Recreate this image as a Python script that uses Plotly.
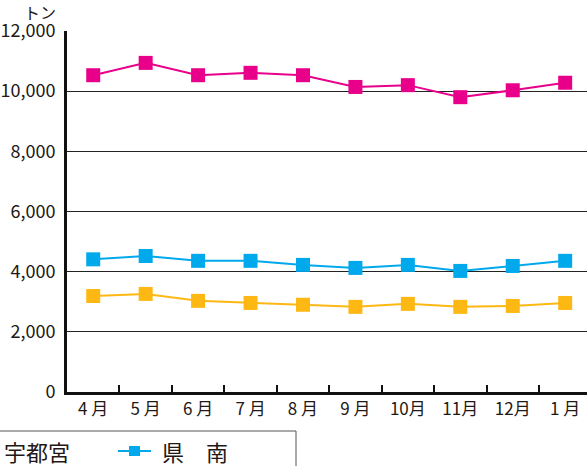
import plotly.graph_objects as go

months = ["4\u00a0月", "5\u00a0月", "6\u00a0月", "7\u00a0月", "8\u00a0月", "9\u00a0月", "10月", "11月", "12月", "1\u00a0月"]
utsunomiya = [10530, 10940, 10530, 10610, 10530, 10140, 10200, 9800, 10030, 10280]
kennan = [4410, 4520, 4360, 4360, 4225, 4125, 4225, 4025, 4190, 4360]
kenpoku = [3190, 3260, 3030, 2960, 2900, 2830, 2930, 2830, 2860, 2960]

series_names = ["宇都宮", "県　南", "県　北"]
series_colors = ["#E8008A", "#00A9EC", "#FDB813"]

y_ticks = [0, 2000, 4000, 6000, 8000, 10000, 12000]
y_ticktext = ["0", "2,000", "4,000", "6,000", "8,000", "10,000", "12,000"]

FONT = "Noto Sans CJK JP"
W, H = 587, 466
ML, MT, MB = 67, 31, 74
PW, PH = W - ML, H - MT - MB


def px_x(x):
    return (x - ML) / PW


def px_y(y):
    return (MT + PH - y) / PH


fig = go.Figure()
for vals, name, col in [(kenpoku, series_names[2], series_colors[2]),
                        (utsunomiya, series_names[0], series_colors[0]),
                        (kennan, series_names[1], series_colors[1])]:
    fig.add_trace(go.Scatter(x=months, y=vals, name=name, mode="lines+markers",
                             line=dict(color=col, width=2),
                             marker=dict(symbol="square", size=14, color=col),
                             showlegend=False))

# legend (partly outside the visible page, as in the reference)
shapes = [
    dict(type="rect", xref="paper", yref="paper", x0=px_x(-20), x1=px_x(296),
         y0=px_y(431), y1=px_y(480), line=dict(color="#555555", width=1),
         fillcolor="white", layer="above"),
    dict(type="line", xref="paper", yref="paper", x0=px_x(-45), x1=px_x(-12),
         y0=px_y(451), y1=px_y(451), line=dict(color=series_colors[0], width=2), layer="above"),
    dict(type="rect", xref="paper", yref="paper", x0=px_x(-34), x1=px_x(-23),
         y0=px_y(446), y1=px_y(456), line=dict(width=0), fillcolor=series_colors[0], layer="above"),
    dict(type="line", xref="paper", yref="paper", x0=px_x(118), x1=px_x(151),
         y0=px_y(451), y1=px_y(451), line=dict(color=series_colors[1], width=2), layer="above"),
    dict(type="rect", xref="paper", yref="paper", x0=px_x(129), x1=px_x(140),
         y0=px_y(446), y1=px_y(456), line=dict(width=0), fillcolor=series_colors[1], layer="above"),
]

annotations = [
    dict(text="トン", x=px_x(40), y=px_y(12), xref="paper", yref="paper",
         xanchor="center", yanchor="middle", showarrow=False,
         font=dict(size=16, family=FONT)),
    dict(text=series_names[0], x=px_x(72), y=px_y(451), xref="paper", yref="paper",
         xanchor="right", yanchor="middle", showarrow=False,
         font=dict(size=22, family=FONT)),
    dict(text=series_names[1], x=px_x(160), y=px_y(451), xref="paper", yref="paper",
         xanchor="left", yanchor="middle", showarrow=False,
         font=dict(size=22, family=FONT)),
]

fig.update_layout(
    width=W, height=H,
    margin=dict(l=ML, r=0, t=MT, b=MB),
    paper_bgcolor="white", plot_bgcolor="white",
    font=dict(family=FONT, color="#231815"),
    showlegend=False,
    shapes=shapes,
    annotations=annotations,
)

fig.update_xaxes(type="category", categoryorder="array", categoryarray=months,
                 range=[-0.5, 9.5 - 4.4 / 52.4],
                 showline=True, linecolor="#111111", linewidth=3,
                 ticks="inside", tickson="boundaries", ticklen=7, tickwidth=2,
                 tickcolor="#111111", showgrid=False,
                 tickfont=dict(size=17, family=FONT))
fig.update_yaxes(range=[0, 12000], tickvals=y_ticks, ticktext=y_ticktext,
                 showline=True, linecolor="#111111", linewidth=3,
                 showgrid=True, gridcolor="#222222", gridwidth=1,
                 zeroline=False, ticks="", ticklabelstandoff=5,
                 tickfont=dict(size=18, family=FONT))

fig.write_html("out.html")
